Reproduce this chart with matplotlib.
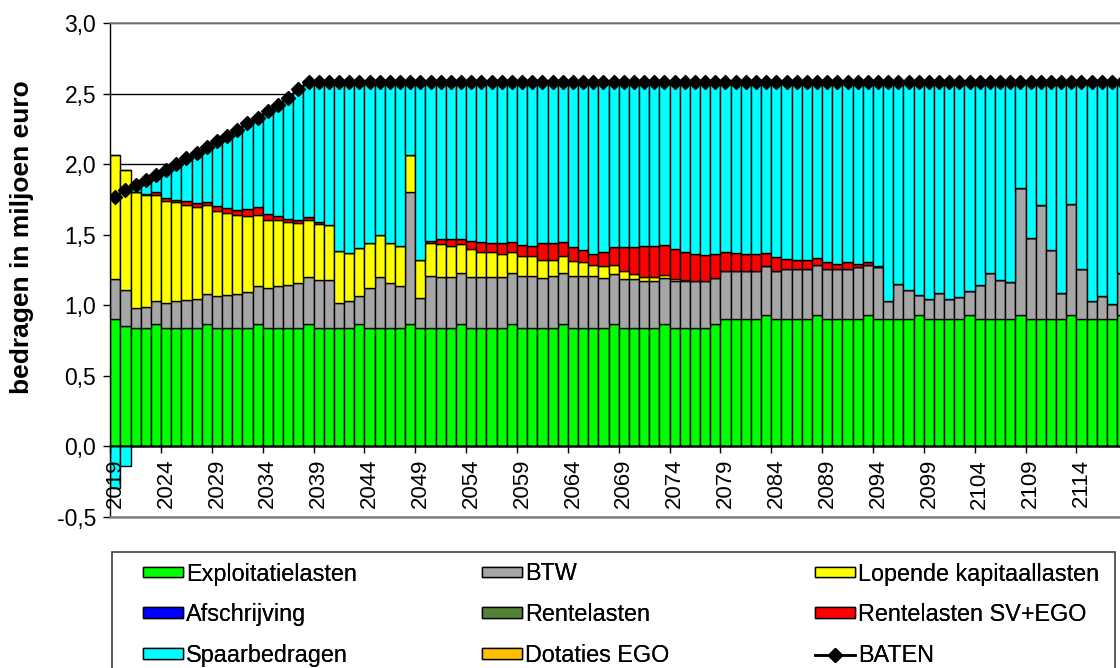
import numpy as np
import matplotlib
matplotlib.use("Agg")
import matplotlib.pyplot as plt
from matplotlib.patches import Rectangle
from matplotlib.ticker import FixedLocator, FuncFormatter

plt.rcParams['font.family'] = ['Liberation Sans', 'DejaVu Sans']

# ---------------- data (miljoen euro) ----------------
years = list(range(2019, 2119))

exploitatielasten = [
    0.900, 0.852, 0.837, 0.837, 0.868, 0.837, 0.837, 0.837, 0.837, 0.868,
    0.837, 0.837, 0.837, 0.837, 0.868, 0.837, 0.837, 0.837, 0.837, 0.868,
    0.837, 0.837, 0.837, 0.837, 0.868, 0.837, 0.837, 0.837, 0.837, 0.868,
    0.837, 0.837, 0.837, 0.837, 0.868, 0.837, 0.837, 0.837, 0.837, 0.868,
    0.837, 0.837, 0.837, 0.837, 0.868, 0.837, 0.837, 0.837, 0.837, 0.868,
    0.837, 0.837, 0.837, 0.837, 0.868, 0.837, 0.837, 0.837, 0.837, 0.868,
    0.905, 0.905, 0.905, 0.905, 0.929, 0.905, 0.905, 0.905, 0.905, 0.929,
    0.905, 0.905, 0.905, 0.905, 0.929, 0.905, 0.905, 0.905, 0.905, 0.929,
    0.905, 0.905, 0.905, 0.905, 0.929, 0.905, 0.905, 0.905, 0.905, 0.929,
    0.905, 0.905, 0.905, 0.905, 0.929, 0.905, 0.905, 0.905, 0.905, 0.929,
]

btw = [
    0.283, 0.253, 0.143, 0.153, 0.159, 0.176, 0.190, 0.199, 0.209, 0.215,
    0.227, 0.237, 0.246, 0.256, 0.267, 0.287, 0.298, 0.310, 0.323, 0.332,
    0.340, 0.340, 0.178, 0.190, 0.199, 0.282, 0.363, 0.323, 0.298, 0.932,
    0.218, 0.373, 0.363, 0.363, 0.362, 0.363, 0.363, 0.363, 0.363, 0.359,
    0.370, 0.370, 0.358, 0.370, 0.359, 0.370, 0.370, 0.370, 0.358, 0.352,
    0.348, 0.348, 0.336, 0.336, 0.327, 0.336, 0.336, 0.336, 0.336, 0.327,
    0.341, 0.341, 0.341, 0.341, 0.351, 0.341, 0.351, 0.351, 0.351, 0.359,
    0.351, 0.351, 0.351, 0.363, 0.359, 0.363, 0.127, 0.249, 0.200, 0.147,
    0.139, 0.180, 0.139, 0.151, 0.169, 0.241, 0.322, 0.273, 0.261, 0.903,
    0.571, 0.805, 0.488, 0.180, 0.791, 0.354, 0.127, 0.163, 0.107, 0.301,
]

lopende_kapitaallasten = [
    0.885, 0.850, 0.820, 0.790, 0.751, 0.724, 0.703, 0.674, 0.651, 0.624,
    0.603, 0.581, 0.560, 0.543, 0.508, 0.479, 0.466, 0.443, 0.422, 0.403,
    0.396, 0.389, 0.368, 0.344, 0.337, 0.323, 0.301, 0.282, 0.283, 0.268,
    0.265, 0.230, 0.231, 0.218, 0.201, 0.200, 0.178, 0.178, 0.166, 0.151,
    0.142, 0.142, 0.129, 0.117, 0.122, 0.110, 0.100, 0.081, 0.081, 0.068,
    0.059, 0.037, 0.027, 0.027, 0.020, 0.012, 0.005, 0.000, 0.000, 0.000,
    0.000, 0.000, 0.000, 0.000, 0.000, 0.000, 0.000, 0.000, 0.000, 0.000,
    0.000, 0.000, 0.000, 0.000, 0.000, 0.000, 0.000, 0.000, 0.000, 0.000,
    0.000, 0.000, 0.000, 0.000, 0.000, 0.000, 0.000, 0.000, 0.000, 0.000,
    0.000, 0.000, 0.000, 0.000, 0.000, 0.000, 0.000, 0.000, 0.000, 0.000,
]

afschrijving = [0.0] * 100
rentelasten = [0.0] * 100

rentelasten_sv_ego = [
    0.000, 0.000, 0.000, 0.010, 0.022, 0.023, 0.018, 0.030, 0.030, 0.023,
    0.033, 0.035, 0.035, 0.047, 0.055, 0.045, 0.031, 0.023, 0.025, 0.026,
    0.016, 0.000, 0.000, 0.000, 0.000, 0.000, 0.000, 0.000, 0.000, 0.000,
    0.000, 0.014, 0.036, 0.049, 0.036, 0.054, 0.072, 0.061, 0.073, 0.073,
    0.080, 0.071, 0.115, 0.115, 0.102, 0.093, 0.083, 0.078, 0.104, 0.122,
    0.166, 0.188, 0.222, 0.222, 0.214, 0.215, 0.200, 0.188, 0.181, 0.166,
    0.134, 0.122, 0.115, 0.115, 0.093, 0.098, 0.073, 0.064, 0.064, 0.044,
    0.051, 0.039, 0.051, 0.027, 0.019, 0.012, 0.000, 0.000, 0.000, 0.000,
    0.000, 0.000, 0.000, 0.000, 0.000, 0.000, 0.000, 0.000, 0.000, 0.000,
    0.000, 0.000, 0.000, 0.000, 0.000, 0.000, 0.000, 0.000, 0.000, 0.000,
]

spaarbedragen = [
    -0.298, -0.140, 0.050, 0.095, 0.125, 0.200, 0.252, 0.300, 0.353, 0.390,
    0.465, 0.510, 0.567, 0.607, 0.632, 0.727, 0.788, 0.857, 0.923, 0.951,
    0.991, 1.014, 1.197, 1.209, 1.176, 1.138, 1.079, 1.138, 1.162, 0.512,
    1.260, 1.126, 1.113, 1.113, 1.113, 1.126, 1.130, 1.141, 1.141, 1.129,
    1.151, 1.160, 1.141, 1.141, 1.129, 1.170, 1.190, 1.214, 1.200, 1.170,
    1.170, 1.170, 1.158, 1.158, 1.151, 1.180, 1.202, 1.219, 1.226, 1.219,
    1.200, 1.212, 1.219, 1.219, 1.207, 1.236, 1.251, 1.260, 1.260, 1.248,
    1.273, 1.285, 1.273, 1.285, 1.273, 1.300, 1.548, 1.426, 1.475, 1.504,
    1.536, 1.495, 1.536, 1.524, 1.482, 1.434, 1.353, 1.402, 1.414, 0.748,
    1.104, 0.870, 1.187, 1.495, 0.860, 1.321, 1.548, 1.512, 1.568, 1.350,
]

dotaties_ego = [0.0] * 100

baten = [
    1.770, 1.815, 1.850, 1.885, 1.925, 1.960, 2.000, 2.040, 2.080, 2.120,
    2.165, 2.200, 2.245, 2.290, 2.330, 2.375, 2.420, 2.470, 2.530, 2.580,
] + [2.580] * 80

tick_years = years[::5]

# ---------------- figure ----------------
W, H = 1120, 668
fig = plt.figure(figsize=(W / 100, H / 100), dpi=100)
ax_left, ax_right, ax_top, ax_bot = 110.2, 1120.0, 23.0, 517.0
ax = fig.add_axes([ax_left / W, 1 - ax_bot / H, (ax_right - ax_left) / W, (ax_bot - ax_top) / H])

x = np.arange(len(years))
edge = dict(edgecolor='black', linewidth=1.0, width=1.0)

g = np.array(exploitatielasten)
b = np.array(btw)
y_ = np.array(lopende_kapitaallasten)
r = np.array(rentelasten_sv_ego)
c = np.array(spaarbedragen)

bars_expl = ax.bar(x, g, color='#00FF00', label='Exploitatielasten', **edge)
bars_btw = ax.bar(x, b, bottom=g, color='#A6A6A6', label='BTW', **edge)
bars_lop = ax.bar(x, y_, bottom=g + b, color='#FFFF00', label='Lopende kapitaallasten', **edge)
bars_afs = ax.bar(x, afschrijving, color='#0000FF', label='Afschrijving', **edge)
bars_ren = ax.bar(x, rentelasten, color='#548235', label='Rentelasten', **edge)
bars_rsv = ax.bar(x, r, bottom=g + b + y_, color='#FF0000', label='Rentelasten SV+EGO', **edge)
top = g + b + y_ + r
bars_spa = ax.bar(x, c, bottom=np.where(c >= 0, top, 0), color='#00FFFF', label='Spaarbedragen', **edge)
bars_dot = ax.bar(x, dotaties_ego, color='#FFC000', label='Dotaties EGO', **edge)
line_baten, = ax.plot(x, baten, color='black', lw=1.8, marker='D', markersize=6.8,
                      markerfacecolor='black', markeredgecolor='black', label='BATEN', zorder=4)

# axes limits
pitch = 10.17
ax.set_xlim(-0.5, (ax_right - ax_left) / pitch - 0.5)
ax.set_ylim(-0.5, 3.0)

# spines
ax.spines['right'].set_visible(False)
ax.spines['top'].set_color('#808080')
ax.spines['top'].set_linewidth(1.2)
ax.spines['left'].set_color('black')
ax.spines['left'].set_linewidth(1.0)
ax.spines['bottom'].set_position(('data', 0))
ax.spines['bottom'].set_color('black')
ax.spines['bottom'].set_linewidth(1.0)
ax.axhline(-0.5, color='#808080', lw=1.8, clip_on=False, zorder=5)

# y axis
ax.set_yticks(np.arange(-0.5, 3.01, 0.5))
ax.yaxis.set_major_formatter(FuncFormatter(lambda v, p: f"{v:.1f}".replace('.', ',')))
ax.tick_params(axis='y', direction='out', length=5, width=1, pad=5, labelsize=16.5, colors='black')
ax.yaxis.grid(True, color='black', lw=1.0)
ax.yaxis.set_zorder(0.5)
ax.xaxis.set_zorder(3)

# x axis: tick marks between categories, labels centred on category
idx = [years.index(t) for t in tick_years]
ax.xaxis.set_major_locator(FixedLocator([i - 0.5 for i in idx]))
ax.xaxis.set_major_formatter(FuncFormatter(lambda v, p: ''))
ax.xaxis.set_minor_locator(FixedLocator(idx))
ax.set_xticklabels([str(t) for t in tick_years], minor=True, rotation=90)
ax.tick_params(axis='x', which='major', direction='out', length=5, width=1)
ax.tick_params(axis='x', which='minor', length=0, pad=9, labelsize=16)
for lab in ax.get_xticklabels(minor=True):
    lab.set_verticalalignment('top')

fig.text(22 / W, 1 - 237.5 / H, 'bedragen in miljoen euro', rotation=90, fontsize=19,
         fontweight='bold', ha='center', va='center')

# legend: three columns, boxed
lg_kw = dict(frameon=False, fontsize=16.8, handlelength=1.7, handleheight=0.33,
             handletextpad=0.15, labelspacing=0.76, borderpad=0, borderaxespad=0,
             loc='upper left')
cols = [
    ([bars_expl, bars_afs, bars_spa], 143),
    ([bars_btw, bars_ren, bars_dot], 482),
    ([bars_lop, bars_rsv, line_baten], 815),
]
for handles, xpix in cols:
    leg = fig.legend(handles=handles, labels=[h.get_label() for h in handles],
                     bbox_to_anchor=(xpix / W, 1 - 562.5 / H), **lg_kw)
    fig.add_artist(leg)

fig.add_artist(Rectangle((111.7 / W, -0.05), (1115 - 111.7) / W, 0.05 + (1 - 551.7 / H),
                         transform=fig.transFigure, fill=False, edgecolor='#404040', lw=1.2))

fig.savefig('out.png', dpi=100)
